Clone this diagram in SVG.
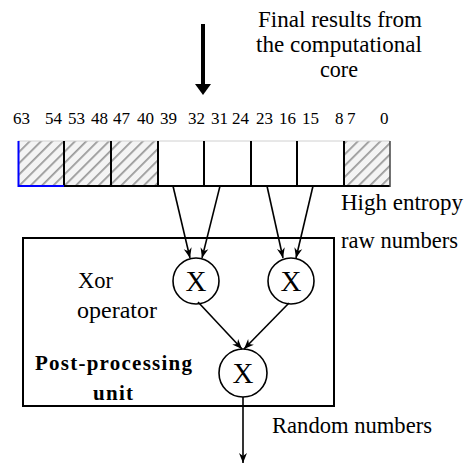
<svg xmlns="http://www.w3.org/2000/svg" width="466" height="464" viewBox="0 0 466 464">
<style>
text{font-family:"Liberation Serif","Times New Roman","DejaVu Serif",serif;fill:#000}
.t{font-size:23px}
.n{font-size:17px}
.b{font-size:21px;font-weight:bold}
.x{font-size:29px;text-anchor:middle}
.c{fill:#fff;stroke:#000;stroke-width:1.6}
.ln{stroke:#000;stroke-width:1.6;fill:none}
.sep{stroke:#000;stroke-width:2}
</style>
<defs>
<pattern id="hatch" patternUnits="userSpaceOnUse" width="8" height="8" patternTransform="rotate(45)">
<rect width="8" height="8" fill="#f4f4f4"/>
<line x1="0" y1="0" x2="0" y2="8" stroke="#999" stroke-width="3.5"/>
</pattern>
<marker id="ah" markerUnits="userSpaceOnUse" markerWidth="10" markerHeight="10" viewBox="0 0 10 10" refX="10" refY="5" orient="auto">
<path d="M0,1 L10,5 L0,9 L3,5 Z" fill="#000"/>
</marker>
</defs>

<g id="input-arrow">
<rect x="201" y="24" width="4" height="61" fill="#000"/>
<polygon points="195,84 211,84 203,95" fill="#000"/>
</g>
<g id="input-label">
<text class="t" x="340" y="27" text-anchor="middle" textLength="164" lengthAdjust="spacingAndGlyphs">Final results from</text>
<text class="t" x="339" y="52" text-anchor="middle" textLength="166" lengthAdjust="spacingAndGlyphs">the computational</text>
<text class="t" x="339" y="77" text-anchor="middle" textLength="38" lengthAdjust="spacingAndGlyphs">core</text>
</g>

<g id="bit-labels">
<text class="n" x="13" y="124">63</text>
<text class="n" x="45" y="124">54</text>
<text class="n" x="68" y="124">53</text>
<text class="n" x="91" y="124">48</text>
<text class="n" x="113" y="124">47</text>
<text class="n" x="137" y="124">40</text>
<text class="n" x="160" y="124">39</text>
<text class="n" x="188" y="124">32</text>
<text class="n" x="211" y="124">31</text>
<text class="n" x="232" y="124">24</text>
<text class="n" x="256" y="124">23</text>
<text class="n" x="279" y="124">16</text>
<text class="n" x="302" y="124">15</text>
<text class="n" x="335" y="124">8</text>
<text class="n" x="347" y="124">7</text>
<text class="n" x="380" y="124">0</text>
</g>

<g id="register">
<rect x="18" y="141" width="140" height="45" fill="url(#hatch)"/>
<rect x="344" y="141" width="46" height="45" fill="url(#hatch)"/>
<line x1="18" y1="141" x2="390" y2="141" stroke="#d0d0d0" stroke-width="1"/>
<line x1="64" y1="186" x2="390" y2="186" class="sep"/>
<line x1="64" y1="141" x2="64" y2="187" class="sep"/>
<line x1="111" y1="141" x2="111" y2="187" class="sep"/>
<line x1="158" y1="141" x2="158" y2="187" class="sep"/>
<line x1="204" y1="141" x2="204" y2="187" class="sep"/>
<line x1="251" y1="141" x2="251" y2="187" class="sep"/>
<line x1="297" y1="141" x2="297" y2="187" class="sep"/>
<line x1="344" y1="141" x2="344" y2="187" class="sep"/>
<line x1="390" y1="141" x2="390" y2="187" stroke="#444" stroke-width="1.5"/>
<polyline points="18.5,141 18.5,186 64,186" fill="none" stroke="#0000ff" stroke-width="2"/>
</g>

<g id="entropy-label">
<text class="t" x="341" y="210" textLength="122" lengthAdjust="spacingAndGlyphs">High entropy</text>
<text class="t" x="341" y="248" textLength="117" lengthAdjust="spacingAndGlyphs">raw numbers</text>
</g>

<g id="post-processing-unit">
<rect x="23" y="238" width="311" height="168" fill="none" stroke="#000" stroke-width="2"/>
<text class="t" x="78" y="288" textLength="35" lengthAdjust="spacingAndGlyphs">Xor</text>
<text class="t" x="77" y="318" textLength="80" lengthAdjust="spacingAndGlyphs">operator</text>
<text class="b" x="35" y="370" textLength="157" lengthAdjust="spacing">Post-processing</text>
<text class="b" x="93" y="400" textLength="40" lengthAdjust="spacing">unit</text>
</g>

<g id="xor1">
<circle class="c" cx="196" cy="281" r="23"/>
<text class="x" x="196" y="291">X</text>
</g>
<g id="xor2">
<circle class="c" cx="291" cy="281" r="23"/>
<text class="x" x="291" y="291">X</text>
</g>
<g id="xor3">
<circle class="c" cx="243" cy="373" r="24"/>
<text class="x" x="243" y="383">X</text>
</g>

<g id="connectors">
<line class="ln" x1="173" y1="186" x2="190" y2="258" marker-end="url(#ah)"/>
<line class="ln" x1="220" y1="186" x2="202" y2="258" marker-end="url(#ah)"/>
<line class="ln" x1="267" y1="186" x2="283" y2="258" marker-end="url(#ah)"/>
<line class="ln" x1="313" y1="186" x2="296" y2="258" marker-end="url(#ah)"/>
<line class="ln" x1="198" y1="302" x2="242" y2="349" marker-end="url(#ah)"/>
<line class="ln" x1="289" y1="303" x2="244" y2="349" marker-end="url(#ah)"/>
<line class="ln" x1="243" y1="397" x2="243" y2="463" marker-end="url(#ah)"/>
</g>

<g id="output-label">
<text class="t" x="272" y="433" textLength="160" lengthAdjust="spacingAndGlyphs">Random numbers</text>
</g>
</svg>
